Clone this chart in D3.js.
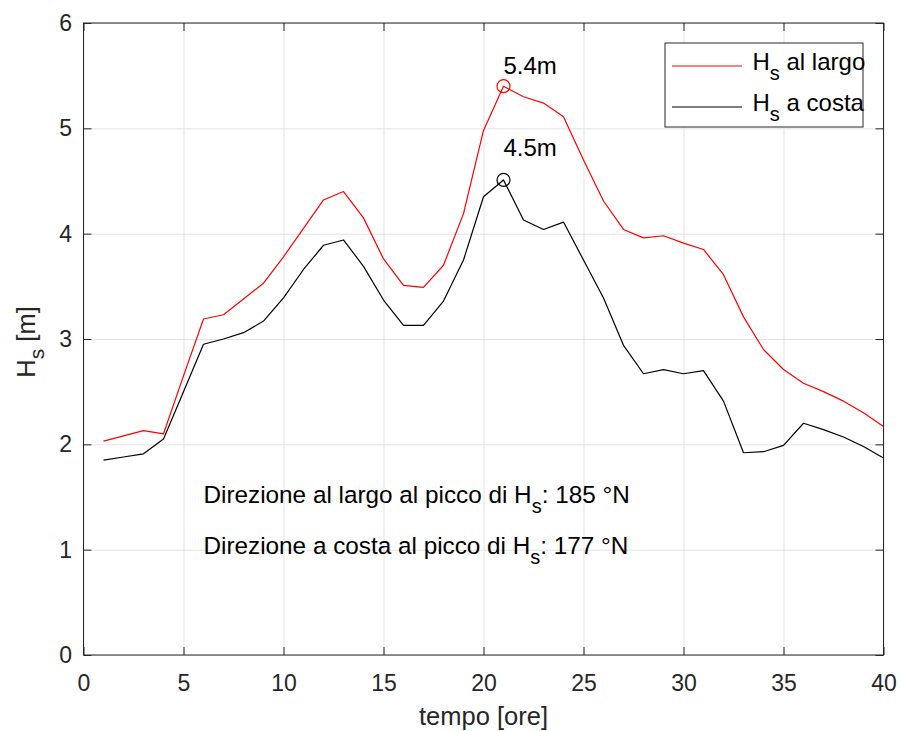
<!DOCTYPE html>
<html>
<head>
<meta charset="utf-8">
<script src="https://cdn.jsdelivr.net/npm/d3@7"></script>
<style>
    body { margin: 0; background: #fff; }
    text { font-family: "Liberation Sans", Arial, sans-serif; fill: #262626; }
</style>
</head>
<body>
<div id="chart"></div>
<script>
// data
const hours = [1, 2, 3, 4, 5, 6, 7, 8, 9, 10, 11, 12, 13, 14, 15, 16, 17, 18, 19, 20,
    21, 22, 23, 24, 25, 26, 27, 28, 29, 30, 31, 32, 33, 34, 35, 36, 37, 38, 39, 40];
const hsLargo = [2.03, 2.08, 2.13, 2.10, 2.65, 3.19, 3.23, 3.38, 3.53, 3.78,
    4.05, 4.32, 4.40, 4.15, 3.76, 3.51, 3.49, 3.70, 4.19, 4.98,
    5.40, 5.30, 5.24, 5.11, 4.70, 4.31, 4.04, 3.96, 3.98, 3.91,
    3.85, 3.61, 3.21, 2.90, 2.71, 2.58, 2.50, 2.41, 2.30, 2.17];
const hsCosta = [1.85, 1.88, 1.91, 2.05, 2.50, 2.95, 3.00, 3.06, 3.17, 3.39,
    3.66, 3.89, 3.94, 3.69, 3.37, 3.13, 3.13, 3.36, 3.75, 4.35,
    4.51, 4.13, 4.04, 4.11, 3.75, 3.39, 2.94, 2.67, 2.71, 2.67,
    2.70, 2.41, 1.92, 1.93, 1.99, 2.20, 2.14, 2.07, 1.98, 1.87];
const xTicks = [0, 5, 10, 15, 20, 25, 30, 35, 40];
const yTicks = [0, 1, 2, 3, 4, 5, 6];

const seriesNames = ['al largo', 'a costa'];
const seriesColors = ['#ff0000', '#000000'];
// peak markers and their labels (data coords)
const peakX = [21, 21];
const peakY = [5.40, 4.51];
const peakText = ['5.4m', '4.5m'];
const peakLabelY = [5.60, 4.82];
// direction notes
const noteX = [6, 6];
const noteY = [1.53, 1.04];
const notePre = ['Direzione al largo al picco di H', 'Direzione a costa al picco di H'];
const notePost = [': 185 °N', ': 177 °N'];

//initialization
const margin = ({top: 23, right: 16.5, bottom: 76, left: 83.5});
const width = 900 - margin.left - margin.right;
const height = 731 - margin.top - margin.bottom;

const svg = d3.select('#chart')
    .append('svg')
    .attr('width', width + margin.left + margin.right)
    .attr('height', height + margin.top + margin.bottom)
    .append('g')
    .attr('transform', 'translate(' + margin.left + ',' + margin.top + ')');

const xScale = d3.scaleLinear().domain([0, 40]).range([0, width]);
const yScale = d3.scaleLinear().domain([0, 6]).range([height, 0]);

// grid
svg.append('g')
    .attr('class', 'grid')
    .attr('transform', 'translate(0,' + height + ')')
    .call(d3.axisBottom(xScale).tickValues(xTicks).tickSize(-height).tickFormat(''));
svg.append('g')
    .attr('class', 'grid')
    .call(d3.axisLeft(yScale).tickValues(yTicks).tickSize(-width).tickFormat(''));
svg.selectAll('.grid .domain').remove();
svg.selectAll('.grid line').attr('stroke', '#e3e3e3').attr('stroke-width', 1);

// axes, ticks pointing inward on every side
const xAxis = svg.append('g')
    .attr('transform', 'translate(0,' + height + ')')
    .call(d3.axisBottom(xScale).tickValues(xTicks).tickSize(-8).tickPadding(19).tickFormat(d3.format('d')));
const yAxis = svg.append('g')
    .call(d3.axisLeft(yScale).tickValues(yTicks).tickSize(-8).tickPadding(11.5).tickFormat(d3.format('d')));
svg.append('g')
    .call(d3.axisTop(xScale).tickValues(xTicks).tickSize(-8).tickFormat(''));
svg.append('g')
    .attr('transform', 'translate(' + width + ',0)')
    .call(d3.axisRight(yScale).tickValues(yTicks).tickSize(-8).tickFormat(''));

svg.selectAll('.domain').remove();
svg.selectAll('.tick line').filter(function() { return this.parentNode.parentNode.getAttribute('class') !== 'grid'; })
    .attr('stroke', '#262626');
svg.selectAll('.tick text')
    .attr('font-size', 23)
    .attr('font-family', '"Liberation Sans", Arial, sans-serif')
    .attr('fill', '#262626');
xAxis.selectAll('.tick text').attr('dy', '0.72em');

svg.append('rect')
    .attr('width', width)
    .attr('height', height)
    .attr('fill', 'none')
    .attr('stroke', '#262626')
    .attr('stroke-width', 1);

// lines
const line = d3.line()
    .x(d => xScale(d[0]))
    .y(d => yScale(d[1]));

[hsLargo, hsCosta].forEach(function(vals, i) {
    svg.append('path')
        .datum(hours.map((h, j) => [h, vals[j]]))
        .attr('fill', 'none')
        .attr('stroke', seriesColors[i])
        .attr('stroke-width', 1.2)
        .attr('stroke-linejoin', 'round')
        .attr('d', line);
});

// peak circles + labels
peakX.forEach(function(px, i) {
    svg.append('circle')
        .attr('cx', xScale(px))
        .attr('cy', yScale(peakY[i]))
        .attr('r', 6.5)
        .attr('fill', 'none')
        .attr('stroke', seriesColors[i])
        .attr('stroke-width', 1.2);
    svg.append('text')
        .attr('x', xScale(px))
        .attr('y', yScale(peakLabelY[i]))
        .attr('dy', '0.36em')
        .attr('font-size', 24)
        .style('fill', '#000')
        .text(peakText[i]);
});

// direction notes with subscript
noteX.forEach(function(nx, i) {
    const t = svg.append('text')
        .attr('x', xScale(nx))
        .attr('y', yScale(noteY[i]))
        .attr('dy', '0.36em')
        .attr('font-size', 24.3)
        .style('fill', '#000');
    t.append('tspan').text(notePre[i]);
    t.append('tspan').attr('font-size', 20).attr('dy', 10).text('s');
    t.append('tspan').attr('dy', -10).text(notePost[i]);
});

// axis labels
svg.append('text')
    .attr('x', width / 2)
    .attr('y', 702)
    .attr('text-anchor', 'middle')
    .attr('font-size', 25.5)
    .text('tempo [ore]');

const yLabel = svg.append('text')
    .attr('transform', 'translate(' + (35 - margin.left) + ',' + (342 - margin.top) + ') rotate(-90)')
    .attr('text-anchor', 'middle')
    .attr('font-size', 25.5);
yLabel.append('tspan').text('H');
yLabel.append('tspan').attr('font-size', 21).attr('dy', 9).text('s');
yLabel.append('tspan').attr('dy', -9).text(' [m]');

// legend
const legend = svg.append('g')
    .attr('transform', 'translate(' + (width - 218.5) + ',20)');
legend.append('rect')
    .attr('width', 198)
    .attr('height', 84)
    .attr('fill', '#fff')
    .attr('stroke', '#262626')
    .attr('stroke-width', 1);
seriesNames.forEach(function(name, i) {
    const ly = 23 + i * 41;
    legend.append('line')
        .attr('x1', 7).attr('x2', 77)
        .attr('y1', ly).attr('y2', ly)
        .attr('stroke', seriesColors[i])
        .attr('stroke-width', 1.2);
    const t = legend.append('text')
        .attr('x', 87.5)
        .attr('y', ly + 4)
        .attr('font-size', 24)
        .style('fill', '#000');
    t.append('tspan').text('H');
    t.append('tspan').attr('font-size', 20).attr('dy', 10).text('s');
    t.append('tspan').attr('dy', -10).text(' ' + name);
});
</script>
</body>
</html>
